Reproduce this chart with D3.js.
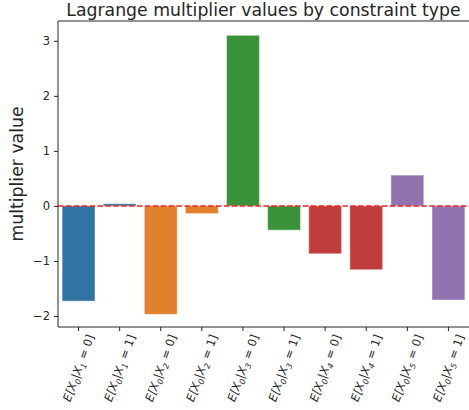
<!DOCTYPE html>
<meta charset="utf-8">
<script src="https://d3js.org/d3.v7.min.js"></script>
<style>
  body { margin: 0; background: #fff; }
  text { font-family: "DejaVu Sans", sans-serif; fill: #262626; }
</style>
<div id="my_dataviz"></div>
<script>

// constraint pairs: E[X0 | Xk = v]
var conds = ["1", "1", "2", "2", "3", "3", "4", "4", "5", "5"];
var condVals = ["0", "1", "0", "1", "0", "1", "0", "1", "0", "1"];
var multipliers = [-1.73, 0.04, -1.97, -0.14, 3.10, -0.44, -0.87, -1.16, 0.56, -1.71];
var barColors = ["#3274a1", "#3274a1", "#e1812c", "#e1812c", "#3a923a", "#3a923a",
                 "#c03d3e", "#c03d3e", "#9372b2", "#9372b2"];
var yTicks = [-2, -1, 0, 1, 2, 3];

var width = 469, height = 410;
var margin = {top: 21, right: 0, bottom: 83, left: 58};
var innerW = width - margin.left - margin.right,
    innerH = height - margin.top - margin.bottom;

var svg = d3.select("#my_dataviz")
  .append("svg")
    .attr("width", width)
    .attr("height", height);

var g = svg.append("g")
    .attr("transform", "translate(" + margin.left + "," + margin.top + ")");

var idx = d3.range(multipliers.length);

var x = d3.scaleBand()
  .domain(idx)
  .range([0, innerW])
  .paddingInner(0.2)
  .paddingOuter(0.1);

var y = d3.scaleLinear()
  .domain([-2.2, 3.36])
  .range([innerH, 0]);

// bars
g.append("g")
  .selectAll("rect")
  .data(idx)
  .enter()
  .append("rect")
    .attr("x", function(i) { return x(i); })
    .attr("width", x.bandwidth())
    .attr("y", function(i) { return y(Math.max(0, multipliers[i])); })
    .attr("height", function(i) { return Math.abs(y(multipliers[i]) - y(0)); })
    .style("fill", function(i) { return barColors[i]; })
    .style("stroke", "rgba(255,255,255,0.45)")
    .style("stroke-width", 1);

// zero line
g.append("line")
  .attr("x1", 0)
  .attr("x2", innerW)
  .attr("y1", y(0))
  .attr("y2", y(0))
  .style("stroke", "#ee2020")
  .style("stroke-width", 1.5)
  .style("stroke-dasharray", "5.5,2.4");

// y axis
var yAxis = g.append("g")
  .call(d3.axisLeft(y).tickValues(yTicks).tickSize(4).tickPadding(4)
    .tickFormat(function(d) { return d < 0 ? "\u2212" + Math.abs(d) : d; }));
yAxis.selectAll("text").style("font-size", "11.5px").style("fill", "#262626");
yAxis.selectAll("line").style("stroke", "#262626");
yAxis.select(".domain").remove();

// x axis ticks
var xAxis = g.append("g")
  .attr("transform", "translate(0," + innerH + ")")
  .call(d3.axisBottom(x).tickSize(4).tickFormat(""));
xAxis.selectAll("line").style("stroke", "#262626");
xAxis.select(".domain").remove();

// spines
g.append("line").attr("x1", 0).attr("x2", 0).attr("y1", 0).attr("y2", innerH)
  .style("stroke", "#262626").style("stroke-width", 1);
g.append("line").attr("x1", 0).attr("x2", innerW).attr("y1", innerH).attr("y2", innerH)
  .style("stroke", "#262626").style("stroke-width", 1);
g.append("line").attr("x1", 0).attr("x2", innerW).attr("y1", 0).attr("y2", 0)
  .style("stroke", "#262626").style("stroke-width", 1);

// rotated x tick labels
var lblFont = 11.5;
idx.forEach(function(i) {
  var t = g.append("text")
    .attr("text-anchor", "middle")
    .attr("dominant-baseline", "central")
    .style("font-size", lblFont + "px")
    .style("font-style", "italic");
  t.append("tspan").text("E[X");
  t.append("tspan").attr("baseline-shift", "sub").style("font-size", "8px").text("0");
  t.append("tspan").text("|X");
  t.append("tspan").attr("baseline-shift", "sub").style("font-size", "8px").text(conds[i]);
  t.append("tspan").style("font-style", "normal").text(" = " + condVals[i] + "]");
  var L = t.node().getComputedTextLength();
  var a = 70 * Math.PI / 180;
  var boxH = L * Math.sin(a) + lblFont * Math.cos(a);
  var cx = x(i) + x.bandwidth() / 2;
  var cy = innerH + 6 + boxH / 2;
  t.attr("transform", "translate(" + cx + "," + cy + ") rotate(-70)");
});

// title
svg.append("text")
  .attr("x", margin.left + innerW / 2)
  .attr("y", 16)
  .attr("text-anchor", "middle")
  .style("font-size", "17.3px")
  .text("Lagrange multiplier values by constraint type");

// y label
svg.append("text")
  .attr("transform", "translate(23," + (margin.top + innerH / 2) + ") rotate(-90)")
  .attr("text-anchor", "middle")
  .style("font-size", "17.3px")
  .text("multiplier value");

</script>
